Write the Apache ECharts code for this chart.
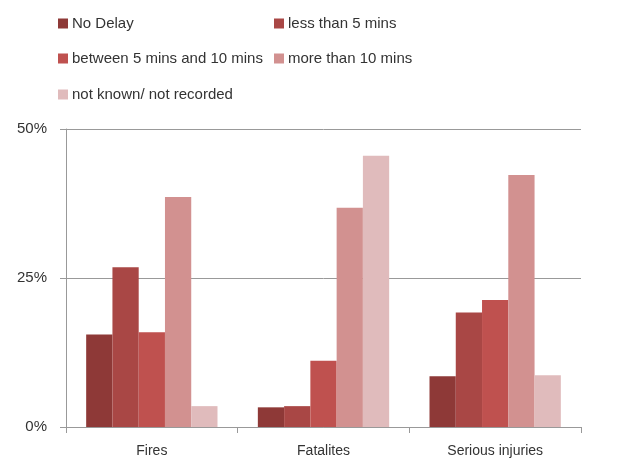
<!DOCTYPE html>
<html>
<head>
<meta charset="utf-8">
<script src="https://cdn.jsdelivr.net/npm/echarts@6/dist/echarts.min.js"></script>
<style>html,body{margin:0;padding:0;background:#fff}#c{width:622px;height:460px}</style>
</head>
<body>
<div id="c"></div>
<script>
var categories = ['Fires', 'Fatalites', 'Serious injuries'];
var seriesNames = ['No Delay', 'less than 5 mins', 'between 5 mins and 10 mins', 'more than 10 mins', 'not known/ not recorded'];
var noDelay = [15.5, 3.3, 8.5];
var lessThan5 = [26.8, 3.5, 19.2];
var between5and10 = [15.9, 11.1, 21.3];
var moreThan10 = [38.6, 36.8, 42.3];
var notKnown = [3.5, 45.5, 8.7];
var yTicks = [0, 25, 50];

var colors = ['#8E3937', '#A94745', '#BF514F', '#D29190', '#E0BBBC'];
var values = [noDelay, lessThan5, between5and10, moreThan10, notKnown];
var font = 'Liberation Sans';

var legendPos = [
  {left: 53, top: 11},
  {left: 269, top: 11},
  {left: 53, top: 46},
  {left: 269, top: 46},
  {left: 53, top: 82}
];

var chart = echarts.init(document.getElementById('c'));
chart.setOption({
  animation: false,
  color: colors,
  legend: seriesNames.map(function (n, i) {
    return {
      data: [n],
      left: legendPos[i].left,
      top: legendPos[i].top,
      itemWidth: 10,
      itemHeight: 10,
      itemGap: 4,
      icon: 'rect',
      textStyle: {fontFamily: font, fontSize: 15, color: '#333', padding: [0, 0, 0, -1]}
    };
  }),
  grid: {left: 66, right: 41, top: 129, bottom: 33, containLabel: false},
  xAxis: {
    type: 'category',
    data: categories,
    axisLine: {lineStyle: {color: '#999', width: 1}},
    axisTick: {show: true, length: 6, lineStyle: {color: '#999'}},
    axisLabel: {fontFamily: font, fontSize: 14, color: '#333', margin: 17}
  },
  yAxis: {
    type: 'value',
    min: 0,
    max: 50,
    interval: 25,
    axisLine: {show: true, lineStyle: {color: '#999'}},
    axisTick: {show: true, length: 6, lineStyle: {color: '#999'}},
    splitLine: {show: true, lineStyle: {color: '#999', width: 1}},
    axisLabel: {formatter: function (v) { return yTicks.indexOf(v) >= 0 ? v + '%' : ''; }, fontFamily: font, fontSize: 15, color: '#333', margin: 19}
  },
  series: seriesNames.map(function (n, i) {
    return {
      name: n,
      type: 'bar',
      data: values[i],
      barGap: '0%',
      barCategoryGap: '23.5%',
      itemStyle: {color: colors[i]}
    };
  })
});
</script>
</body>
</html>
